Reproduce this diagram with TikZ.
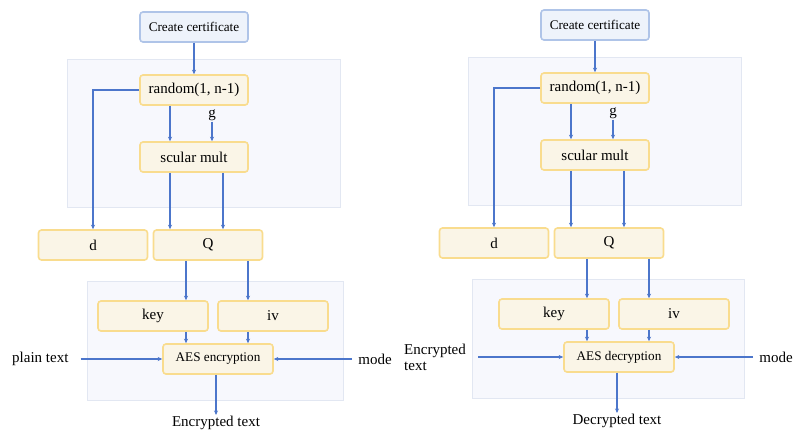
\documentclass[tikz,border=0pt]{standalone}
\usepackage{fontspec}
\setmainfont{Liberation Serif}
\usetikzlibrary{arrows.meta}
\definecolor{boxFill}{HTML}{FAF5E7}
\definecolor{boxLine}{HTML}{F9DC8E}
\definecolor{certFill}{HTML}{EEF3FB}
\definecolor{certLine}{HTML}{AFC4E8}
\definecolor{panFill}{HTML}{F7F8FD}
\definecolor{panLine}{HTML}{E2E7F2}
\definecolor{flowC}{HTML}{4C76CB}
\tikzset{
  stepbox/.style={draw=boxLine, fill=boxFill, line width=1.6pt, rounded corners=3pt,
    minimum width=108pt, minimum height=30pt, font=\fontsize{15}{17}\selectfont},
  certbox/.style={stepbox, draw=certLine, fill=certFill, font=\fontsize{13.2}{15}\selectfont},
  panel/.style={draw=panLine, fill=panFill, line width=0.8pt},
  txt/.style={inner sep=1pt, font=\fontsize{15}{16}\selectfont},
  flow/.style={draw=flowC, line width=1.2pt, -{Stealth[length=4.5pt,width=4pt]}}
}
\begin{document}
\begin{tikzpicture}[x=1pt, y=-1pt]
  \useasboundingbox (0,0) rectangle (795,432);

  % two halves: encryption on the left, decryption on the right
  \foreach \s/\dx/\dy/\pl/\inx/\inp/\aes/\outp in {
      L/0/0/87/11/{plain text}/{AES encryption}/{Encrypted text},
      R/401/-2/472/403/{Encrypted\\text}/{AES decryption}/{Decrypted text}} {
    % grey panels behind the boxes
    \path[panel] ({67+\dx},{59+\dy}) rectangle ({340+\dx},{207+\dy});
    \path[panel] (\pl,{281+\dy}) rectangle ({343+\dx},{400+\dy});

    \node[certbox] (\s cert) at ({194+\dx},{27+\dy}) {Create certificate};
    \node[stepbox] (\s rand) at ({194+\dx},{90+\dy}) {random(1, n-1)};
    \node[stepbox] (\s scal) at ({194+\dx},{157+\dy}) {scular mult};
    \node[txt] (\s g) at ({212+\dx},{115+\dy}) {g};
    \node[stepbox, minimum width=109pt] (\s d) at ({93+\dx},{245+\dy}) {d};
    \node[stepbox, minimum width=109pt] (\s Q) at ({208+\dx},{245+\dy}) {Q};
    \node[stepbox, minimum width=110pt] (\s key) at ({153+\dx},{316+\dy}) {key};
    \node[stepbox, minimum width=110pt] (\s iv) at ({273+\dx},{316+\dy}) {iv};
    \node[stepbox, minimum width=110pt, font=\fontsize{13.2}{15}\selectfont]
      (\s aes) at ({218+\dx},{359+\dy}) {\aes};
    \node[txt, anchor=west, align=left] (\s in) at (\inx,{359+\dy}) {\inp};
    \node[txt] (\s mode) at ({375+\dx},{359+\dy}) {mode};
    \node[txt] (\s out) at ({216+\dx},{423+\dy}) {\outp};

    \draw[flow] (\s cert) -- (\s rand);
    \draw[flow] (\s rand.west) -| (\s d.north);
    \draw[flow] ([xshift=-24pt]\s rand.south) -- ([xshift=-24pt]\s scal.north);
    \draw[flow] (\s g.south) -- (\s g.south |- \s scal.north);
    \draw[flow] ([xshift=-24pt]\s scal.south) -- ([xshift=-24pt]\s scal.south |- \s Q.north);
    \draw[flow] ([xshift=29pt]\s scal.south) -- ([xshift=29pt]\s scal.south |- \s Q.north);
    \draw[flow] ([xshift=-22pt]\s Q.south) -- ([xshift=-22pt]\s Q.south |- \s key.north);
    \draw[flow] ([xshift=40pt]\s Q.south) -- ([xshift=40pt]\s Q.south |- \s iv.north);
    \draw[flow] ([xshift=-22pt]\s Q.south |- \s key.south) -- ([xshift=-22pt]\s Q.south |- \s aes.north);
    \draw[flow] ([xshift=40pt]\s Q.south |- \s iv.south) -- ([xshift=40pt]\s Q.south |- \s aes.north);
    \draw[flow] ([xshift=11pt]\s in.east) -- (\s aes.west);
    \draw[flow] ([xshift=-5pt]\s mode.west) -- (\s aes.east);
    \draw[flow] (\s aes.south -| \s out.north) -- (\s out.north);
  }
\end{tikzpicture}
\end{document}
